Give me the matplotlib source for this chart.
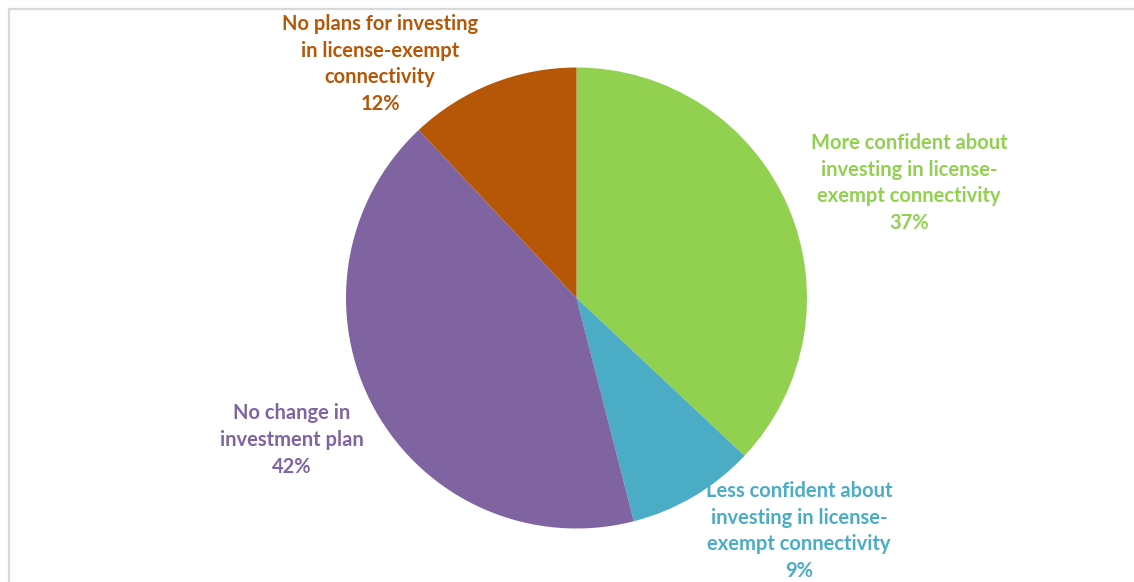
import matplotlib

matplotlib.use("Agg")

import matplotlib.pyplot as plt
from matplotlib.patches import Rectangle

# slices in clockwise order starting at 12 o'clock
LABELS = [
    "More confident about\ninvesting in license-\nexempt connectivity",
    "Less confident about\ninvesting in license-\nexempt connectivity",
    "No change in\ninvestment plan",
    "No plans for investing\nin license-exempt\nconnectivity",
]
SHARES = [37, 9, 42, 12]
COLORS = ["#92D050", "#4BACC6", "#8064A2", "#B65708"]
TEXT_COLORS = ["#92D050", "#4BACC6", "#8064A2", "#B65708"]

# label centres in pixel space (x, y from top)
LABEL_POS = [(909, 183), (799, 531), (292, 440), (380, 64)]

W, H = 1134, 582

plt.rcParams["font.family"] = ["Lato", "DejaVu Sans"]

fig = plt.figure(figsize=(W / 100, H / 100), dpi=100)
ax = fig.add_axes([0, 0, 1, 1])
ax.set_xlim(0, W)
ax.set_ylim(0, H)
ax.set_aspect("equal")
ax.axis("off")

ax.pie(
    SHARES,
    colors=COLORS,
    startangle=90,
    counterclock=False,
    center=(576.5, H - 298),
    radius=230.5,
    wedgeprops=dict(linewidth=0),
)

for label, share, color, (px, py) in zip(LABELS, SHARES, TEXT_COLORS, LABEL_POS):
    ax.text(
        px,
        H - py,
        f"{label}\n{share}%",
        ha="center",
        va="center",
        fontsize=14.5,
        fontweight="bold",
        color=color,
        linespacing=1.43,
    )

ax.set_xlim(0, W)
ax.set_ylim(0, H)

border = Rectangle(
    (9 / W, -0.05),
    1.2,
    1.05 - 8.5 / H,
    transform=fig.transFigure,
    fill=False,
    edgecolor="#D9D9D9",
    linewidth=1.6,
)
fig.patches.append(border)

fig.savefig("out.png", dpi=100, facecolor="white")
